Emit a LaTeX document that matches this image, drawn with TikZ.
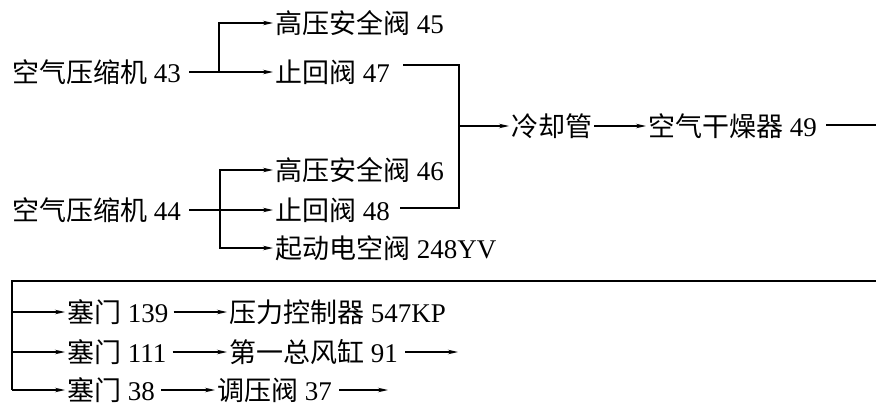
\documentclass[tikz,border=0pt]{standalone}
\usepackage{fontspec}
\setmainfont{Liberation Serif}
\newfontfamily\cjk{Noto Sans CJK SC}
\usetikzlibrary{arrows.meta,calc}
\tikzset{
  lbl/.style={anchor=west,inner sep=0pt,font=\fontsize{27}{32}\selectfont},
  ln/.style={line width=1.2pt},
  arr/.style={line width=1.2pt,-{Stealth[length=10pt,width=4.5pt]},shorten >=2pt}
}
\begin{document}
\begin{tikzpicture}[x=1pt,y=-1pt]
\useasboundingbox (0,0) rectangle (876,408);
% top group
\node[lbl] (c43) at (12,72) {{\cjk 空气压缩机} 43};
\node[lbl] (v45) at (275,23) {{\cjk 高压安全阀} 45};
\node[lbl] (v47) at (275,72) {{\cjk 止回阀} 47};
\node[lbl] (c44) at (12,210) {{\cjk 空气压缩机} 44};
\node[lbl] (v46) at (275,170) {{\cjk 高压安全阀} 46};
\node[lbl] (v48) at (275,210) {{\cjk 止回阀} 48};
\node[lbl] (v248) at (275,248) {{\cjk 起动电空阀} 248YV};
\node[lbl] (cool) at (511,126) {\cjk 冷却管};
\node[lbl] (dry) at (648,126) {{\cjk 空气干燥器} 49};
\coordinate (b43) at (219,72);
\coordinate (b44) at (220,210);
\coordinate (mt) at (459,65);
\coordinate (mb) at (459,208);
\coordinate (mj) at (459,126);
\coordinate (re) at (876,125);
\draw[arr] (c43.east) ++(8,0) -- (v47.west);
\draw[arr] (b43) |- (v45.west);
\draw[arr] (c44.east) ++(8,0) -- (v48.west);
\draw[arr] (b44) |- (v46.west);
\draw[arr] (b44) |- (v248.west);
\draw[ln] (v47.east |- mt) ++(13,0) -- (mt) -- (mb) -- ($(v48.east |- mb)+(10,0)$);
\draw[arr] (mj) -- (cool.west);
\draw[arr] (cool.east) ++(2,0) -- (dry.west);
\draw[ln] (dry.east |- re) ++(9,0) -- (re);
% bottom group
\coordinate (bl) at (12,281);
\coordinate (br) at (876,281);
\coordinate (bb) at (12,390);
\node[lbl] (s139) at (67,312) {{\cjk 塞门} 139};
\node[lbl] (pc) at (229,312) {{\cjk 压力控制器} 547KP};
\node[lbl] (s111) at (67,352) {{\cjk 塞门} 111};
\node[lbl] (tank) at (229,352) {{\cjk 第一总风缸} 91};
\node[lbl] (s38) at (67,390) {{\cjk 塞门} 38};
\node[lbl] (reg) at (217,390) {{\cjk 调压阀} 37};
\coordinate (e91) at (460,352);
\coordinate (e37) at (390,390);
\draw[ln] (br) -- (bl) -- (bb);
\draw[arr] (bl |- s139.west) -- (s139.west);
\draw[arr] (bl |- s111.west) -- (s111.west);
\draw[arr] (bb) -- (s38.west);
\draw[arr] (s139.east) ++(5,0) -- (pc.west);
\draw[arr] (s111.east) ++(6,0) -- (tank.west);
\draw[arr] (s38.east) ++(6,0) -- (reg.west);
\draw[arr] (tank.east) ++(7,0) -- (e91);
\draw[arr] (reg.east) ++(7,0) -- (e37);
\end{tikzpicture}
\end{document}
